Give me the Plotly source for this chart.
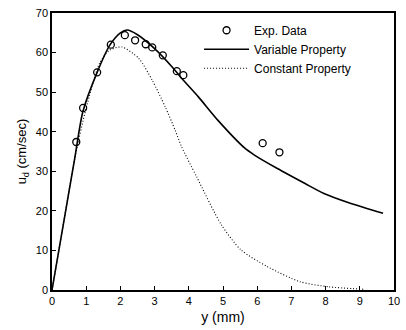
import plotly.graph_objects as go

exp_x = [0.71, 0.91, 1.32, 1.72, 2.13, 2.43, 2.74, 2.93, 3.24, 3.65, 3.84, 6.16, 6.65]
exp_y = [37.4, 46.0, 55.0, 62.0, 64.4, 63.1, 62.1, 61.3, 59.3, 55.3, 54.3, 37.1, 34.8]

var_x = [0, 0.3, 0.66, 0.9, 1.32, 1.7, 2.0, 2.2, 2.5, 3.0, 3.5, 3.79, 4.28, 4.86, 5.63, 5.92, 6.59, 7.4, 7.95, 8.7, 9.68]
var_y = [0, 15, 33, 45, 55, 62, 65, 65.7, 64.5, 61, 56.5, 53.5, 48.8, 42.8, 35.9, 34.1, 30.7, 26.9, 24.4, 22.0, 19.4]

con_x = [0, 0.3, 0.66, 1.0, 1.39, 1.68, 2.05, 2.54, 2.93, 3.31, 3.6, 3.79, 4.23, 4.95, 5.53, 6.3, 7.25, 8.1, 9.1]
con_y = [0, 15, 33, 46, 57.3, 60.6, 61.4, 58.5, 53.0, 46.3, 40.4, 36.2, 28.6, 16.5, 10.1, 5.9, 2.1, 0.8, 0.2]

x_ticks = list(range(0, 11))
y_ticks = list(range(0, 71, 10))

fig = go.Figure()
fig.add_trace(go.Scatter(x=exp_x, y=exp_y, mode="markers", name="Exp. Data",
                         marker=dict(symbol="circle-open", size=7, color="black",
                                     line=dict(width=1.3, color="black"))))
fig.add_trace(go.Scatter(x=var_x, y=var_y, mode="lines", name="Variable Property",
                         line=dict(color="black", width=1.6, shape="spline", smoothing=0.7)))
fig.add_trace(go.Scatter(x=con_x, y=con_y, mode="lines", name="Constant Property",
                         line=dict(color="black", width=1.1, dash="1px,2px", shape="spline", smoothing=0.7)))

axis_common = dict(showgrid=False, zeroline=False, showline=True, linecolor="black",
                   linewidth=1.5, mirror=True, ticks="inside", ticklen=4, tickcolor="black",
                   tickfont=dict(family="Liberation Sans, Arial", size=11, color="black"))

fig.update_layout(
    width=406, height=330,
    margin=dict(l=52, r=6, t=13, b=40),
    paper_bgcolor="white", plot_bgcolor="white",
    font=dict(family="Liberation Sans, Arial", color="black"),
    xaxis=dict(range=[0, 10], tickvals=x_ticks, title=dict(text="y (mm)", font=dict(size=14), standoff=6), **axis_common),
    yaxis=dict(range=[0, 70], tickvals=y_ticks, title=dict(text="u<sub>d</sub> (cm/sec)", font=dict(size=13), standoff=6), **axis_common),
    legend=dict(x=0.43, y=0.99, xanchor="left", yanchor="top", bgcolor="rgba(0,0,0,0)",
                itemwidth=45,
                font=dict(size=12, color="black"), tracegroupgap=0),
)

fig.write_html("out.html")
